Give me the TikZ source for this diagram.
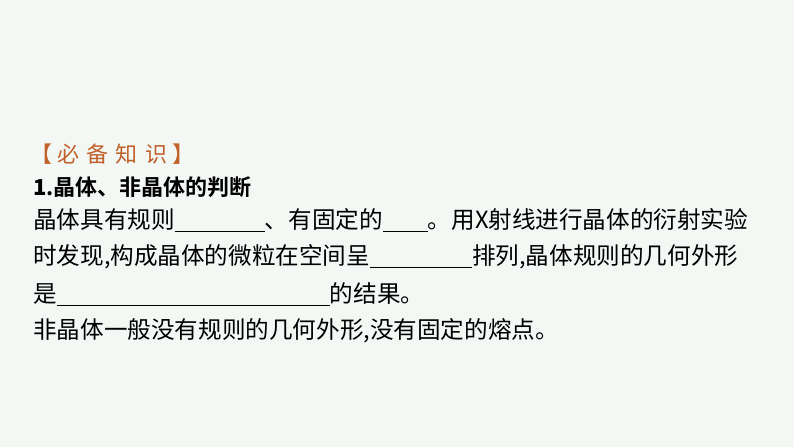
\documentclass[tikz,border=0pt]{standalone}
\usepackage{fontspec}
\setmainfont{Liberation Serif}
\newfontfamily\cjk{Noto Sans CJK SC}
\newfontfamily\cjkb{Noto Sans CJK SC Bold}
\definecolor{bg}{HTML}{F3F8F5}
\definecolor{hd}{HTML}{C0602A}
\newcommand{\blank}[1]{\rule[-3pt]{#1pt}{0.6pt}}
\begin{document}
\begin{tikzpicture}[x=1pt,y=1pt,
  txt/.style={anchor=west,inner sep=0pt,font=\fontsize{23.6}{23.6}\selectfont\cjk}]
\fill[bg] (0,0) rectangle (794,447);
\node[txt,text=hd,font=\fontsize{22}{22}\selectfont\cjk] (h) at (30,447-154) {【 必\,\,备\,\,知\,\,识 】};
\node[txt,font=\fontsize{22}{22}\selectfont\cjkb] (t) at (33,447-187) {\textbf{1}.晶体、非晶体的判断};
\node[txt] (l1) at (33,447-220) {晶体具有规则\blank{90}、有固定的\blank{45}。用X射线进行晶体的衍射实验};
\node[txt] (l2) at (33,447-257) {时发现,构成晶体的微粒在空间呈\blank{102}排列,晶体规则的几何外形};
\node[txt] (l3) at (33,447-294) {是\blank{273}的结果。};
\node[txt] (l4) at (33,447-331) {非晶体一般没有规则的几何外形,没有固定的熔点。};
\end{tikzpicture}
\end{document}
